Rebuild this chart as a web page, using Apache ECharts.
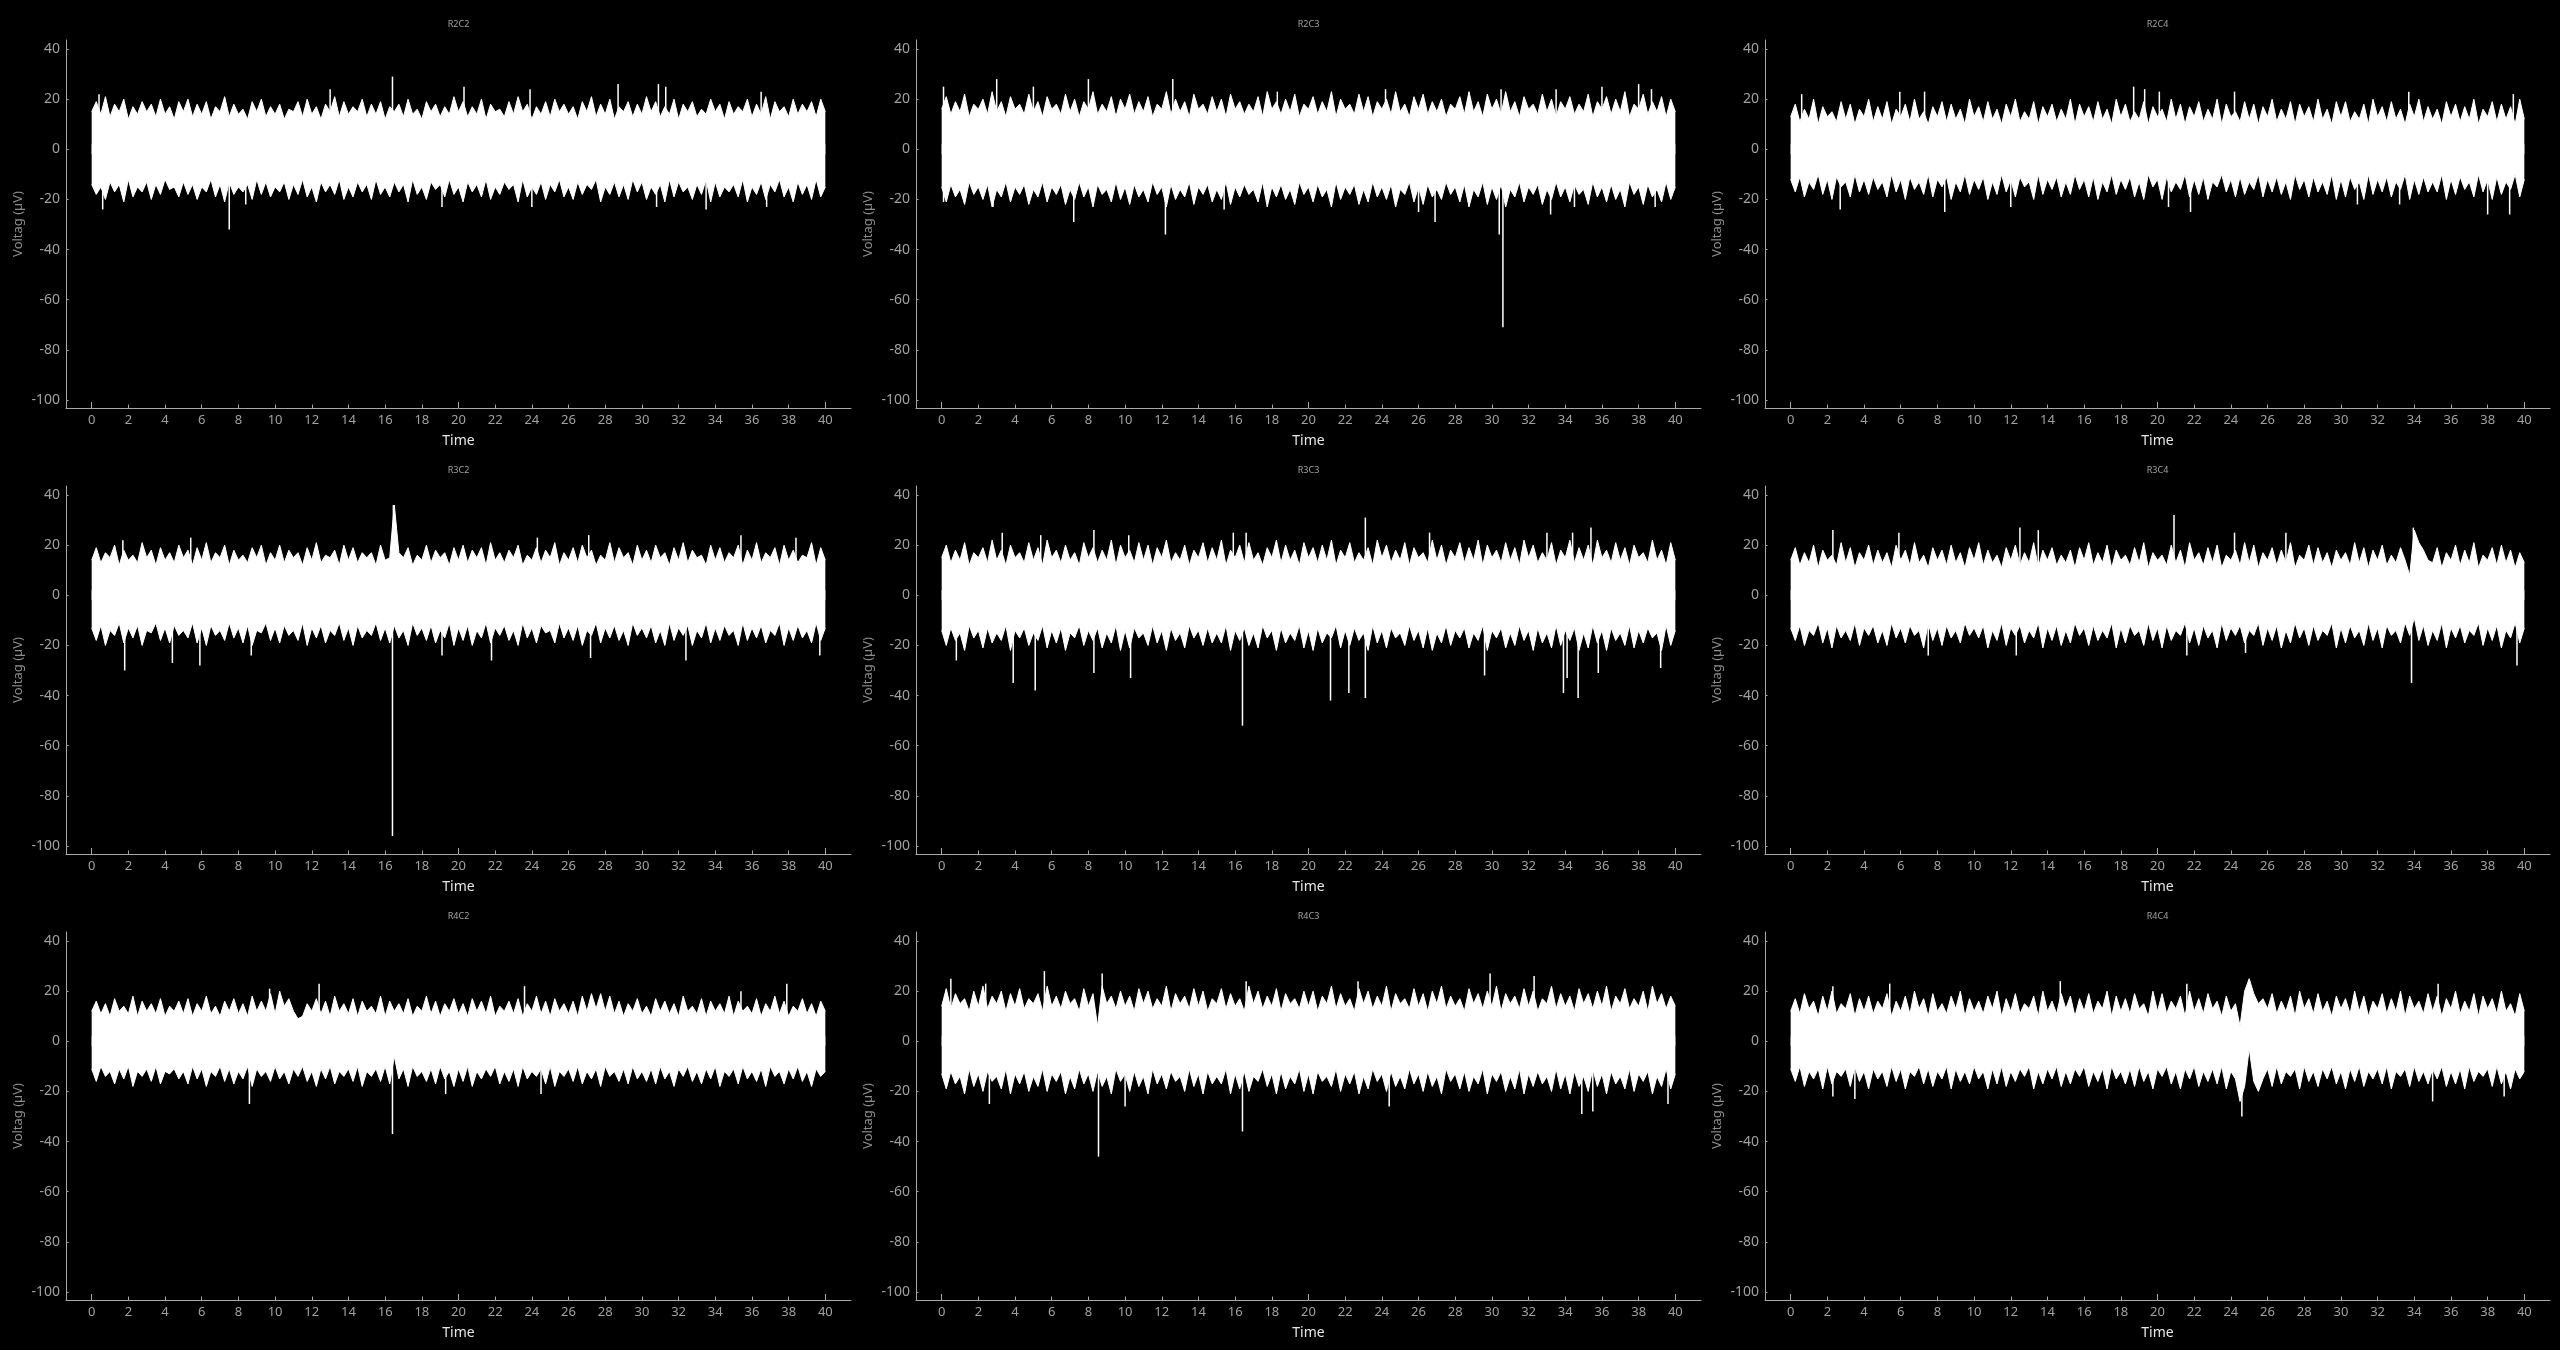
<!DOCTYPE html>
<html><head><meta charset="utf-8">
<script src="https://cdn.jsdelivr.net/npm/echarts@6/dist/echarts.min.js"></script>
<style>html,body{margin:0;background:#000;}#c{width:2560px;height:1350px;}</style>
</head><body><div id="c"></div>
<script>
// ---- axis ticks ----
const duration = 40;
const xTicks = [0,2,4,6,8,10,12,14,16,18,20,22,24,26,28,30,32,34,36,38,40];
const xMajorTicks = [0,20,40];
const yTicks = [-100,-80,-60,-40,-20,0,20,40];
const panelNames = ['R2C2','R2C3','R2C4','R3C2','R3C3','R3C4','R4C2','R4C3','R4C4'];

// ---- envelopes (upper / lower edge of the trace, sampled every 0.25 s) and isolated spikes [time, value] ----
const topR2C2 = [15,19,14,21,13,18,15,20,12,17,14,19,15,18,13,20,14,17,12,19,
15,20,13,18,14,19,12,17,15,21,13,18,14,16,12,19,15,20,13,17,
14,18,12,16,15,19,13,20,14,17,12,18,15,21,13,19,14,17,15,20,
13,18,14,19,12,17,15,18,13,20,14,16,12,19,15,18,13,17,14,21,
15,19,13,17,14,20,12,18,15,16,13,19,14,21,15,18,12,17,14,19,
13,20,15,18,14,17,12,19,15,21,13,18,14,20,12,17,15,19,13,18,
14,21,15,19,13,17,14,20,12,18,15,19,13,16,14,20,15,18,12,19,
14,17,15,20,13,18,14,21,12,19,15,17,13,20,14,18,15,19,13,20,15];
const botR2C2 = [-14,-18,-15,-20,-13,-17,-14,-21,-12,-19,-15,-17,-13,-20,-14,-18,-12,-16,-15,-19,
-13,-18,-14,-20,-15,-17,-12,-19,-14,-21,-13,-18,-15,-17,-14,-20,-12,-18,-13,-19,
-15,-17,-13,-20,-14,-18,-12,-19,-15,-21,-13,-17,-14,-18,-12,-20,-15,-19,-13,-17,
-14,-20,-12,-18,-15,-19,-13,-17,-14,-21,-12,-18,-15,-20,-13,-16,-14,-19,-12,-18,
-15,-21,-13,-17,-14,-19,-12,-20,-15,-18,-13,-16,-14,-21,-12,-19,-15,-18,-13,-20,
-14,-17,-12,-19,-15,-20,-13,-18,-14,-16,-12,-21,-15,-18,-13,-19,-14,-20,-12,-17,
-13,-20,-15,-18,-14,-21,-12,-19,-13,-17,-15,-20,-14,-18,-12,-21,-13,-19,-15,-17,
-14,-19,-12,-21,-15,-18,-13,-20,-14,-17,-12,-19,-15,-21,-13,-18,-14,-20,-12,-19,-15];
const spikesR2C2 = [[0.4,22],[13.0,24],[16.4,29],[20.3,25],[23.9,24],[28.7,26],[30.9,26],[31.3,25],[36.5,23],
[0.6,-24],[7.5,-32],[8.4,-22],[19.1,-23],[24.0,-23],[30.8,-23],[33.5,-24],[36.8,-23]];

const topR2C3 = [16,21,14,19,15,22,13,18,16,20,14,23,15,19,13,21,16,18,14,22,
15,19,13,21,16,18,14,22,15,20,13,19,16,23,14,18,15,21,13,20,
16,22,14,19,15,21,13,18,16,23,14,20,15,19,13,22,16,18,14,21,
15,20,13,22,16,19,14,18,15,21,13,23,16,19,14,20,15,22,13,18,
16,21,14,19,15,23,13,20,16,18,14,22,15,21,13,19,16,20,14,23,
15,18,13,21,16,22,14,19,15,20,13,18,16,21,14,23,15,19,13,22,
16,20,14,23,15,19,13,21,16,18,14,22,15,20,13,19,16,21,14,18,
15,22,13,19,16,21,14,20,15,23,13,18,16,22,14,19,15,21,13,20,15];
const botR2C3 = [-15,-21,-14,-19,-16,-22,-13,-18,-15,-20,-14,-23,-16,-19,-13,-21,-15,-18,-14,-22,
-16,-19,-13,-21,-15,-18,-14,-22,-16,-20,-13,-19,-15,-23,-14,-18,-16,-21,-13,-20,
-15,-22,-14,-19,-16,-21,-13,-18,-15,-23,-14,-20,-16,-19,-13,-22,-15,-18,-14,-21,
-16,-20,-13,-22,-15,-19,-14,-18,-16,-21,-13,-23,-15,-19,-14,-20,-16,-22,-13,-18,
-15,-21,-14,-19,-16,-23,-13,-20,-15,-18,-14,-22,-16,-21,-13,-19,-15,-20,-14,-23,
-16,-18,-13,-21,-15,-22,-14,-19,-16,-20,-13,-18,-15,-21,-14,-23,-16,-19,-13,-22,
-15,-20,-14,-23,-16,-19,-13,-21,-15,-18,-14,-22,-16,-20,-13,-19,-15,-21,-14,-18,
-16,-22,-13,-19,-15,-21,-14,-20,-16,-23,-13,-18,-15,-22,-14,-19,-16,-21,-13,-20,-15];
const spikesR2C3 = [[0.1,25],[3.0,28],[5.0,25],[8.0,28],[12.6,28],[18.3,23],[24.2,24],[30.5,24],[33.5,24],[36.0,25],[38.0,26],[38.7,24],
[0.1,-21],[2.8,-23],[7.2,-29],[12.2,-34],[15.4,-24],[26.0,-25],[26.9,-29],[30.4,-34],[30.6,-71],[33.2,-26],[34.5,-23],[38.9,-23]];

const topR2C4 = [13,18,11,16,12,20,10,17,13,15,11,19,12,18,10,16,13,20,11,17,
12,19,10,16,13,18,11,20,12,15,10,17,13,19,11,18,12,16,10,20,
13,17,11,19,12,16,10,18,13,20,11,15,12,19,10,17,13,18,11,16,
12,20,10,18,13,17,11,19,12,16,10,20,13,18,11,15,12,19,10,17,
13,16,11,20,12,18,10,17,13,19,11,16,12,20,10,18,13,15,11,19,
12,18,10,17,13,20,11,16,12,19,10,18,13,17,11,20,12,16,10,19,
13,19,11,15,12,18,10,20,13,17,11,19,12,16,10,18,13,20,11,17,
12,16,10,19,13,18,11,17,12,20,10,16,13,19,11,18,12,17,10,20,12];
const botR2C4 = [-12,-17,-11,-19,-13,-16,-10,-18,-12,-20,-11,-15,-13,-19,-10,-17,-12,-18,-11,-16,
-13,-19,-10,-17,-12,-20,-11,-16,-13,-18,-10,-19,-12,-15,-11,-20,-13,-17,-10,-18,
-12,-16,-11,-20,-13,-18,-10,-17,-12,-19,-11,-15,-13,-20,-10,-18,-12,-16,-11,-19,
-13,-18,-10,-16,-12,-19,-11,-20,-13,-17,-10,-18,-12,-16,-11,-19,-13,-20,-10,-15,
-12,-20,-11,-17,-13,-16,-10,-19,-12,-18,-11,-20,-13,-15,-10,-17,-12,-19,-11,-18,
-13,-16,-10,-19,-12,-17,-11,-18,-13,-20,-10,-16,-12,-19,-11,-17,-13,-18,-10,-20,
-12,-19,-11,-16,-13,-20,-10,-18,-12,-17,-11,-19,-13,-16,-10,-20,-12,-18,-11,-17,
-13,-17,-10,-20,-12,-18,-11,-16,-13,-19,-10,-17,-12,-20,-11,-18,-13,-16,-10,-19,-12];
const spikesR2C4 = [[0.6,22],[5.95,23],[7.3,23],[18.7,25],[19.3,24],[20.1,23],[24.2,23],[33.7,23],[39.4,22],
[2.7,-24],[8.4,-25],[12.0,-23],[20.6,-23],[21.8,-25],[30.9,-22],[33.2,-22],[38.0,-26],[39.2,-26]];

const topR3C2 = [14,19,13,17,15,20,12,18,14,16,13,21,15,18,12,19,14,17,13,20,
15,18,12,19,14,21,13,17,15,20,12,18,14,16,13,19,15,20,12,17,
14,20,13,18,15,17,12,19,14,21,13,16,15,18,12,20,14,19,13,17,
15,17,12,20,14,15,36,17,15,19,12,16,14,20,13,18,15,17,12,19,
14,20,13,18,15,19,12,21,14,17,13,18,15,20,12,16,14,19,13,18,
15,21,12,17,14,19,13,20,15,18,12,16,14,21,13,19,15,17,12,20,
14,18,13,20,15,17,12,19,14,21,13,18,15,16,12,20,14,19,13,17,
15,20,12,18,14,21,13,17,15,19,12,20,14,18,13,16,15,21,12,19,14];
const botR3C2 = [-13,-18,-12,-20,-14,-16,-11,-19,-13,-17,-12,-20,-14,-15,-11,-18,-13,-19,-12,-16,
-14,-17,-11,-19,-13,-20,-12,-16,-14,-18,-11,-17,-13,-19,-12,-20,-14,-15,-11,-18,
-13,-19,-12,-16,-14,-18,-11,-20,-13,-17,-12,-19,-14,-16,-11,-18,-13,-20,-12,-17,
-14,-16,-11,-18,-13,-19,-12,-17,-14,-20,-11,-16,-13,-18,-12,-19,-14,-17,-11,-20,
-13,-18,-12,-20,-14,-17,-11,-19,-13,-16,-12,-18,-14,-20,-11,-17,-13,-19,-12,-15,
-14,-19,-11,-17,-13,-18,-12,-20,-14,-16,-11,-19,-13,-17,-12,-18,-14,-20,-11,-16,
-13,-17,-12,-19,-14,-20,-11,-18,-13,-16,-12,-20,-14,-17,-11,-19,-13,-18,-12,-16,
-14,-20,-11,-18,-13,-17,-12,-19,-14,-16,-11,-20,-13,-18,-12,-17,-14,-19,-11,-18,-13];
const spikesR3C2 = [[1.7,22],[5.4,23],[16.45,36],[24.3,23],[27.1,24],[35.4,24],[38.4,23],
[1.8,-30],[4.4,-27],[5.9,-28],[8.7,-24],[16.4,-96],[19.1,-24],[21.8,-26],[27.2,-25],[32.4,-26],[39.7,-24]];

const topR3C3 = [15,20,13,18,14,21,12,17,15,19,13,22,14,18,12,20,15,17,13,21,
14,19,12,22,15,18,13,20,14,17,12,21,15,19,13,18,14,22,12,20,
15,18,13,21,14,20,12,19,15,22,13,17,14,20,12,18,15,21,13,19,
14,22,12,18,15,20,13,21,14,17,12,19,15,22,13,20,14,18,12,21,
15,19,13,20,14,22,12,18,15,21,13,17,14,19,12,22,15,20,13,18,
14,21,12,19,15,17,13,22,14,20,12,18,15,21,13,19,14,22,12,20,
15,18,13,21,14,19,12,22,15,20,13,17,14,21,12,18,15,22,13,19,
14,20,12,22,15,18,13,21,14,19,12,20,15,17,13,22,14,18,12,21,14];
const botR3C3 = [-14,-20,-13,-18,-15,-22,-12,-17,-14,-21,-13,-19,-15,-18,-12,-22,-14,-17,-13,-20,
-15,-18,-12,-21,-14,-19,-13,-22,-15,-17,-12,-20,-14,-18,-13,-21,-15,-19,-12,-22,
-14,-21,-13,-17,-15,-20,-12,-19,-14,-22,-13,-18,-15,-21,-12,-17,-14,-20,-13,-19,
-15,-19,-12,-22,-14,-18,-13,-20,-15,-21,-12,-17,-14,-22,-13,-19,-15,-18,-12,-21,
-14,-22,-13,-19,-15,-17,-12,-21,-14,-20,-13,-18,-15,-22,-12,-19,-14,-21,-13,-17,
-15,-20,-12,-18,-14,-21,-13,-22,-15,-19,-12,-20,-14,-17,-13,-21,-15,-18,-12,-22,
-14,-17,-13,-21,-15,-20,-12,-18,-14,-22,-13,-19,-15,-21,-12,-20,-14,-18,-13,-22,
-15,-21,-12,-19,-14,-22,-13,-18,-15,-20,-12,-21,-14,-19,-13,-17,-15,-22,-12,-20,-14];
const spikesR3C3 = [[3.3,25],[5.4,24],[8.3,26],[10.2,24],[15.9,25],[16.6,25],[23.1,31],[26.6,25],[33.0,25],[34.4,25],[35.4,27],
[0.8,-26],[3.9,-35],[5.1,-38],[8.3,-31],[10.3,-33],[16.4,-52],[21.2,-42],[22.2,-39],[23.1,-41],[29.6,-32],[33.9,-39],[34.1,-33],[34.7,-41],[35.8,-31],[39.2,-29]];

const topR3C4 = [14,19,12,17,13,20,11,18,14,16,12,21,13,19,11,17,14,20,12,18,
13,17,11,20,14,18,12,21,13,16,11,19,14,18,12,20,13,17,11,19,
14,21,12,18,13,16,11,19,14,20,12,17,13,21,11,18,14,19,12,16,
13,18,11,19,14,21,12,17,13,20,11,18,14,16,12,19,13,21,11,17,
14,16,12,20,13,18,11,21,14,17,12,19,13,20,11,16,14,18,12,21,
13,20,11,17,14,19,12,18,13,21,11,16,14,20,12,19,13,17,11,18,
14,17,12,21,13,19,11,18,14,20,12,16,13,19,14,8,26,21,18,14,
13,19,11,17,14,20,12,18,13,21,11,16,14,19,12,20,13,18,11,17,13];
const botR3C4 = [-13,-18,-12,-20,-14,-16,-11,-19,-13,-21,-12,-17,-14,-18,-11,-20,-13,-16,-12,-19,
-14,-20,-11,-17,-13,-19,-12,-16,-14,-21,-11,-18,-13,-20,-12,-17,-14,-19,-11,-16,
-13,-17,-12,-21,-14,-18,-11,-20,-13,-16,-12,-19,-14,-17,-11,-21,-13,-18,-12,-20,
-14,-19,-11,-16,-13,-20,-12,-18,-14,-17,-11,-21,-13,-19,-12,-16,-14,-20,-11,-18,
-13,-21,-12,-18,-14,-16,-11,-19,-13,-20,-12,-17,-14,-21,-11,-18,-13,-16,-12,-19,
-14,-16,-11,-20,-13,-18,-12,-21,-14,-19,-11,-17,-13,-20,-12,-18,-14,-16,-11,-21,
-13,-19,-12,-17,-14,-20,-11,-18,-13,-21,-12,-16,-14,-19,-11,-16,-9,-18,-12,-20,
-14,-18,-11,-21,-13,-17,-12,-19,-14,-16,-11,-20,-13,-18,-12,-21,-14,-17,-11,-19,-13];
const spikesR3C4 = [[2.3,26],[5.9,25],[12.5,27],[13.5,26],[20.9,32],[24.2,25],[27.0,25],[33.95,27],
[7.5,-24],[12.3,-24],[21.6,-24],[24.8,-23],[33.85,-35],[39.6,-28]];

const topR4C2 = [12,16,11,15,10,17,12,14,11,18,10,16,12,15,11,17,10,14,12,16,
11,17,10,15,12,18,11,14,10,16,12,17,11,15,10,18,12,16,12,19,
11,20,14,17,12,9,10,15,12,17,11,16,10,18,12,15,11,17,10,16,
12,14,11,18,10,16,12,15,11,17,10,14,12,18,11,16,10,15,12,17,
11,15,10,17,12,16,11,18,10,14,12,16,11,17,10,15,12,18,11,16,
10,17,12,15,11,16,10,18,12,19,13,19,12,18,11,16,10,15,12,17,
11,14,10,17,12,16,11,15,10,18,12,14,11,17,10,16,12,15,11,18,
10,16,12,14,11,17,10,15,12,18,11,16,10,14,12,17,11,15,10,16,12];
const botR4C2 = [-11,-16,-10,-14,-12,-17,-11,-15,-10,-18,-12,-14,-11,-16,-10,-17,-12,-13,-11,-15,
-12,-17,-10,-15,-11,-18,-12,-14,-10,-16,-11,-17,-12,-15,-10,-18,-11,-14,-12,-16,
-10,-15,-12,-17,-11,-14,-10,-16,-12,-18,-11,-15,-10,-17,-12,-14,-11,-16,-10,-18,
-12,-14,-11,-16,-10,-17,-6,-15,-11,-18,-10,-14,-12,-16,-11,-17,-10,-15,-12,-18,
-11,-16,-10,-18,-12,-15,-11,-14,-10,-17,-12,-16,-11,-18,-10,-15,-12,-14,-11,-17,
-10,-18,-12,-14,-11,-16,-10,-17,-12,-15,-11,-18,-10,-14,-12,-16,-11,-17,-10,-15,
-12,-16,-11,-17,-10,-15,-12,-18,-11,-14,-10,-16,-12,-17,-11,-15,-10,-18,-12,-14,
-11,-17,-10,-15,-12,-16,-11,-18,-10,-14,-12,-17,-11,-15,-10,-16,-12,-18,-11,-14,-12];
const spikesR4C2 = [[9.7,21],[12.4,23],[23.6,22],[35.4,20],[37.9,23],
[8.6,-25],[16.4,-37],[19.3,-21],[24.5,-21]];

const topR4C3 = [14,21,13,19,15,17,12,20,14,22,13,18,15,20,12,19,14,21,13,17,
15,19,12,22,14,18,13,20,15,17,12,21,14,19,6,22,15,18,13,20,
14,18,12,21,15,20,13,17,14,22,12,19,15,18,13,21,14,20,12,17,
15,21,13,19,14,17,12,22,15,20,13,18,14,21,12,19,15,17,13,20,
14,20,12,18,15,22,13,19,14,17,12,21,15,20,13,18,14,22,12,19,
15,17,13,21,14,19,12,20,15,22,13,18,14,17,12,21,15,19,13,20,
14,22,12,19,15,18,13,21,14,20,12,17,15,22,13,19,14,18,12,21,
15,19,13,20,14,22,12,18,15,21,13,17,14,20,12,22,15,19,13,18,14];
const botR4C3 = [-13,-19,-12,-17,-14,-21,-11,-18,-13,-20,-12,-16,-14,-19,-11,-21,-13,-17,-12,-20,
-14,-18,-11,-20,-13,-16,-12,-21,-14,-19,-11,-17,-13,-20,-12,-18,-14,-21,-11,-16,
-13,-20,-12,-18,-14,-21,-11,-17,-13,-19,-12,-16,-14,-20,-11,-18,-13,-21,-12,-17,
-14,-17,-11,-21,-13,-19,-12,-20,-14,-16,-11,-18,-13,-21,-12,-19,-14,-17,-11,-20,
-13,-21,-12,-16,-14,-18,-11,-20,-13,-17,-12,-21,-14,-19,-11,-16,-13,-20,-12,-18,
-14,-19,-11,-17,-13,-20,-12,-18,-14,-21,-11,-16,-13,-19,-12,-20,-14,-17,-11,-21,
-13,-16,-12,-20,-14,-19,-11,-21,-13,-18,-12,-17,-14,-20,-11,-19,-13,-21,-12,-18,
-14,-20,-11,-18,-13,-21,-12,-17,-14,-19,-11,-20,-13,-16,-12,-21,-14,-18,-11,-19,-13];
const spikesR4C3 = [[0.5,25],[2.4,23],[5.6,28],[8.75,27],[16.6,24],[22.7,24],[29.9,27],[32.3,26],
[2.6,-25],[8.55,-46],[10.0,-26],[16.4,-36],[24.4,-26],[34.9,-29],[35.5,-28],[39.6,-25]];

const topR4C4 = [12,17,11,19,13,16,10,18,12,20,11,15,13,19,10,17,12,18,11,16,
13,19,10,16,12,18,11,20,13,17,10,19,12,15,11,18,13,20,10,17,
12,16,11,18,13,20,10,17,12,19,11,15,13,18,10,20,12,16,11,19,
13,18,10,17,12,19,11,16,13,20,10,18,12,17,11,19,13,15,10,20,
12,19,11,16,13,18,10,20,12,17,11,19,13,16,10,18,12,15,6,20,
25,19,15,17,13,19,11,16,12,18,10,20,13,17,11,19,12,16,10,18,
13,17,11,20,12,18,10,16,13,19,11,17,12,20,10,18,13,16,11,19,
12,18,10,17,13,20,11,16,12,19,10,18,13,17,11,20,12,15,10,19,12];
const botR4C4 = [-11,-16,-10,-18,-12,-15,-11,-19,-10,-17,-12,-14,-11,-18,-10,-16,-12,-19,-11,-15,
-12,-18,-10,-16,-11,-19,-12,-14,-10,-17,-11,-18,-12,-15,-10,-19,-11,-16,-12,-17,
-10,-15,-12,-19,-11,-17,-10,-18,-12,-16,-11,-14,-10,-19,-12,-17,-11,-15,-10,-18,
-12,-17,-11,-14,-10,-18,-12,-16,-11,-19,-10,-15,-12,-17,-11,-18,-10,-16,-12,-19,
-11,-14,-10,-17,-12,-19,-11,-15,-10,-18,-12,-16,-11,-17,-10,-19,-12,-15,-24,-18,
-3,-16,-20,-15,-11,-18,-10,-17,-12,-14,-11,-19,-10,-16,-12,-18,-11,-15,-10,-17,
-12,-19,-11,-16,-10,-18,-12,-15,-11,-17,-10,-19,-12,-14,-11,-18,-10,-16,-12,-17,
-11,-15,-10,-18,-12,-17,-11,-19,-10,-16,-12,-14,-11,-18,-10,-17,-12,-19,-11,-15,-12];
const spikesR4C4 = [[2.3,22],[5.4,23],[14.7,24],[21.6,23],[35.3,23],
[24.6,-30],[2.3,-22],[3.5,-23],[35.0,-24],[38.9,-22]];

const panels = [
  {name:panelNames[0], top:topR2C2, bot:botR2C2, spikes:spikesR2C2},
  {name:panelNames[1], top:topR2C3, bot:botR2C3, spikes:spikesR2C3},
  {name:panelNames[2], top:topR2C4, bot:botR2C4, spikes:spikesR2C4},
  {name:panelNames[3], top:topR3C2, bot:botR3C2, spikes:spikesR3C2},
  {name:panelNames[4], top:topR3C3, bot:botR3C3, spikes:spikesR3C3},
  {name:panelNames[5], top:topR3C4, bot:botR3C4, spikes:spikesR3C4},
  {name:panelNames[6], top:topR4C2, bot:botR4C2, spikes:spikesR4C2},
  {name:panelNames[7], top:topR4C3, bot:botR4C3, spikes:spikesR4C3},
  {name:panelNames[8], top:topR4C4, bot:botR4C4, spikes:spikesR4C4}
];

// ---- layout / style ----
const FONT = 'Noto Sans';
const colLeft = [66, 916, 1765], rowTop = [40, 486, 932], gw = 785, gh = 368;
const xMin = -1.4, xMax = 41.4, yMin = -103.2, yMax = 43.6;
const axisColor = '#a8a8a8', labelColor = '#a0a0a0';

const grids = [], xAxes = [], yAxes = [], series = [], titles = [];
const toPts = arr => arr.map((v, i) => [i * duration / (arr.length - 1), v]);

panels.forEach((p, k) => {
  const r = Math.floor(k / 3), c = k % 3;
  grids.push({left: colLeft[c], top: rowTop[r], width: gw, height: gh});
  titles.push({text: p.name, left: colLeft[c] + gw / 2, top: rowTop[r] - 20, textAlign: 'center', padding: 0,
    textStyle: {color: '#a0a0a0', fontSize: 9, fontWeight: 'normal', fontFamily: FONT}});
  xAxes[k] = {type: 'value', gridIndex: k, min: xMin, max: xMax, position: 'bottom',
    name: 'Time', nameLocation: 'middle', nameGap: 26,
    nameTextStyle: {color: '#e6e6e6', fontSize: 14, fontFamily: FONT},
    axisLine: {show: true, onZero: false, lineStyle: {color: axisColor, width: 1}},
    axisTick: {show: true, inside: true, length: 3.5, customValues: xTicks, lineStyle: {color: axisColor}},
    axisLabel: {show: true, customValues: xTicks, color: labelColor, fontSize: 13, fontFamily: FONT, margin: 6},
    splitLine: {show: false}};
  xAxes[9 + k] = {type: 'value', gridIndex: k, min: xMin, max: xMax, position: 'bottom', offset: 0,
    axisLine: {show: false, onZero: false},
    axisTick: {show: true, inside: true, length: 6, customValues: xMajorTicks, lineStyle: {color: axisColor}},
    axisLabel: {show: false}, splitLine: {show: false}};
  yAxes.push({type: 'value', gridIndex: k, min: yMin, max: yMax,
    name: 'Voltag (µV)', nameLocation: 'middle', nameGap: 41,
    nameTextStyle: {color: '#8c8c8c', fontSize: 13, fontFamily: FONT},
    axisLine: {show: true, onZero: false, lineStyle: {color: axisColor, width: 1}},
    axisTick: {show: true, inside: true, length: 2.5, customValues: yTicks, lineStyle: {color: axisColor}},
    axisLabel: {show: true, customValues: yTicks, color: labelColor, fontSize: 14, fontFamily: FONT, margin: 6},
    splitLine: {show: false}});
  const lineCommon = {type: 'line', xAxisIndex: k, yAxisIndex: k, showSymbol: false, symbol: 'none',
    smooth: false, sampling: null, silent: true, animation: false,
    lineStyle: {color: '#ffffff', width: 1}};
  // the two fills overlap slightly around zero so no seam shows between them
  series.push(Object.assign({}, lineCommon, {name: p.name + ' upper', data: toPts(p.top),
    areaStyle: {color: '#ffffff', opacity: 1, origin: -2}}));
  series.push(Object.assign({}, lineCommon, {name: p.name + ' lower', data: toPts(p.bot),
    areaStyle: {color: '#ffffff', opacity: 1, origin: 2}}));
  series.push({type: 'custom', xAxisIndex: k, yAxisIndex: k, silent: true, animation: false,
    data: p.spikes, encode: {x: 0, y: 1},
    renderItem: (params, api) => {
      const t = api.value(0), v = api.value(1);
      const a = api.coord([t, 0]), b = api.coord([t, v]);
      return {type: 'line', shape: {x1: a[0], y1: a[1], x2: b[0], y2: b[1]},
        style: {stroke: '#ffffff', lineWidth: 1.5}};
    }});
});

const chart = echarts.init(document.getElementById('c'), null, {renderer: 'canvas'});
chart.setOption({
  backgroundColor: '#000000',
  animation: false,
  title: titles,
  grid: grids,
  xAxis: xAxes,
  yAxis: yAxes,
  series: series
});
</script>
</body></html>
